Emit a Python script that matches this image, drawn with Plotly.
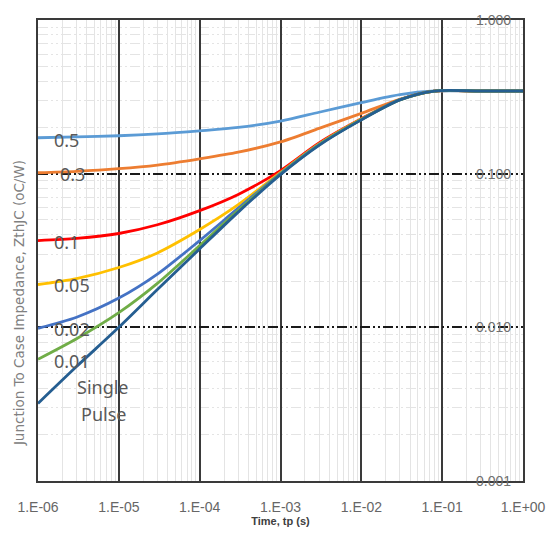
import math
import plotly.graph_objects as go

# Pulse width, tp (s)
time_s = [1e-6, 3e-6, 1e-5, 3e-5, 1e-4, 3e-4, 1e-3, 3e-3, 1e-2, 3e-2, 8e-2, 3e-1, 1.0]

# Transient thermal impedance ZthJC (°C/W) for each duty cycle
z_d050 = [0.1713, 0.1734, 0.1765, 0.1815, 0.190, 0.1998, 0.220, 0.251, 0.290, 0.327, 0.345, 0.345, 0.345]
z_d030 = [0.1014, 0.1035, 0.1077, 0.1138, 0.125, 0.138, 0.161, 0.197, 0.247, 0.305, 0.345, 0.345, 0.345]
z_d010 = [0.0367, 0.0379, 0.0408, 0.0465, 0.0575, 0.0733, 0.1047, 0.1585, 0.2275, 0.304, 0.345, 0.345, 0.345]
z_d005 = [0.0190, 0.02075, 0.0245, 0.0305, 0.0433, 0.0628, 0.102, 0.156, 0.2265, 0.303, 0.345, 0.345, 0.345]
z_d002 = [0.00986, 0.01164, 0.0155, 0.0222, 0.0367, 0.0596, 0.1005, 0.155, 0.2254, 0.303, 0.345, 0.345, 0.345]
z_d001 = [0.0062, 0.00843, 0.01245, 0.0193, 0.034, 0.0578, 0.0995, 0.154, 0.225, 0.302, 0.345, 0.345, 0.345]
z_single = [0.0032, 0.00556, 0.0100, 0.0176, 0.0324, 0.0562, 0.0986, 0.153, 0.224, 0.302, 0.345, 0.345, 0.345]

series_names = ["0.5", "0.3", "0.1", "0.05", "0.02", "0.01", "Single Pulse"]
series_values = [z_d050, z_d030, z_d010, z_d005, z_d002, z_d001, z_single]
series_colors = ["#5B9BD5", "#ED7D31", "#FF0000", "#FFC000", "#4472C4", "#70AD47", "#255E91"]

# Curve label text and anchor positions (time, impedance)
label_text = ["0.5", "0.3", "0.1", "0.05", "0.02", "0.01", "Single", "Pulse"]
label_x = [2.26e-6, 2.67e-6, 2.26e-6, 2.6e-6, 2.6e-6, 2.6e-6, 6.4e-6, 6.4e-6]
label_y = [0.166, 0.100, 0.0361, 0.019, 0.0097, 0.0060, 0.00408, 0.00272]

x_tickvals = [1e-6, 1e-5, 1e-4, 1e-3, 1e-2, 1e-1, 1.0]
x_ticktext = ["1.E-06", "1.E-05", "1.E-04", "1.E-03", "1.E-02", "1.E-01", "1.E+00"]
y_tickvals = [1.0, 0.1, 0.01, 0.001]
y_ticktext = ["1.000", "0.100", "0.010", "0.001"]

fig = go.Figure()
for name, vals, col in zip(series_names, series_values, series_colors):
    fig.add_trace(go.Scatter(
        x=time_s, y=vals, name=name, mode="lines",
        line=dict(color=col, width=2.8, shape="spline", smoothing=0.8),
        showlegend=False, hoverinfo="skip",
    ))

for txt, lx, ly in zip(label_text, label_x, label_y):
    fig.add_annotation(
        x=math.log10(lx), y=math.log10(ly), text=txt, showarrow=False,
        xanchor="center", yanchor="middle",
        font=dict(family="Noto Sans", size=18, color="#595959"),
    )

# Vertical axis title
fig.add_annotation(
    xref="paper", yref="paper", x=-0.04, y=0.385,
    text="Junction To Case Impedance, ZthJC (oC/W)", textangle=-90,
    showarrow=False, xanchor="center", yanchor="middle",
    font=dict(family="DejaVu Sans", size=13.5, color="#808080"),
)

fig.update_layout(
    width=558, height=536,
    margin=dict(l=38, r=27, t=19, b=54),
    paper_bgcolor="white", plot_bgcolor="white",
    font=dict(family="Liberation Sans", color="#595959"),
)

fig.update_xaxes(
    type="log", range=[-6, 0],
    tickvals=x_tickvals, ticktext=x_ticktext,
    tickfont=dict(size=14, color="#666666"),
    ticks="", ticklabelstandoff=12,
    showgrid=True, gridcolor="#3a3a3a", gridwidth=1.5,
    minor=dict(dtick="D1", showgrid=True, gridcolor="#e4e4e4", gridwidth=1),
    showline=True, mirror=True, linecolor="#3a3a3a", linewidth=1.5,
    title=dict(text="<b>Time, tp (s)</b>", font=dict(size=11, color="#404040"), standoff=2),
)

fig.update_yaxes(
    type="log", range=[-3, 0], side="right",
    tickvals=y_tickvals, ticktext=y_ticktext,
    ticklabelposition="inside", ticklabeloverflow="allow", ticklabelstandoff=12,
    tickfont=dict(size=14, color="#707070"),
    ticks="",
    showgrid=True, gridcolor="#1a1a1a", gridwidth=1.5,
    griddash="10px,3px,2px,3px,2px,3px",
    minor=dict(dtick="D1", showgrid=True, gridcolor="#e4e4e4", gridwidth=1),
    showline=True, mirror=True, linecolor="#3a3a3a", linewidth=1.5,
)

fig.write_html("out.html")
